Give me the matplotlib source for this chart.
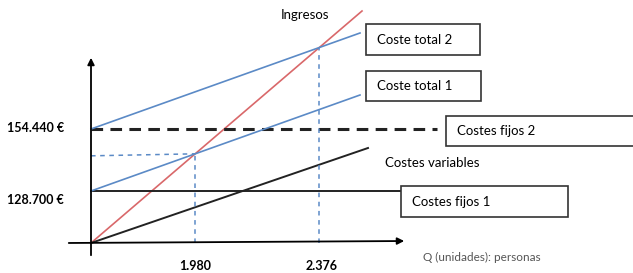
import matplotlib
matplotlib.use('agg')
import matplotlib.pyplot as plt
from matplotlib.patches import Rectangle
import numpy as np

plt.rcParams['font.family'] = ['Lato', 'DejaVu Sans']

# schematic diagram units (origin = 0,0)
fixed_costs = [52, 114]                  # Costes fijos 1, Costes fijos 2
fixed_labels = ['128.700 €', '154.440 €']
ingresos_x = [0, 271]
ingresos_y = [0, 232]
variable_x = [0, 277]
variable_y = [0, 95]
total_slope = 96 / 269                  # Coste total 1 and 2 share the slope
total_end = 269
fixed_ends = [311, 346]
be_labels = ['1.980', '2.376']

blue = '#5b8ac6'
red = '#d9686a'

fig = plt.figure(figsize=(6.33, 2.73), dpi=100)
ax = fig.add_axes([0, 0, 1, 1])
ax.set_xlim(-91, 633 - 91)
ax.set_ylim(-30, 243)
ax.axis('off')

# axes with arrows
ax.annotate('', xy=(316, 2), xytext=(-25, 0),
            arrowprops=dict(arrowstyle='-|>', color='k', lw=1.3, mutation_scale=10))
ax.annotate('', xy=(0, 188), xytext=(0, -15),
            arrowprops=dict(arrowstyle='-|>', color='k', lw=1.3, mutation_scale=10))

# revenue and variable costs
ax.plot(ingresos_x, ingresos_y, color=red, lw=1.2)
ax.plot(variable_x, variable_y, color='#222222', lw=1.4)

# fixed costs
ax.plot([0, fixed_ends[0]], [fixed_costs[0]] * 2, color='#222222', lw=1.4)
ax.plot([0, fixed_ends[1]], [fixed_costs[1]] * 2, color='#222222', lw=2.2,
        dashes=(3.8, 2.4))

# total costs
for cf in fixed_costs:
    ax.plot([0, total_end], [cf, cf + total_slope * total_end], color=blue, lw=1.2)

# break-even points
p = ingresos_y[1] / ingresos_x[1]
for i, cf in enumerate(fixed_costs):
    q = cf / (p - total_slope)
    v = p * q
    ax.plot([q, q], [0, v], color=blue, lw=1.1, dashes=(3, 3))
    if i == 0:
        ax.plot([0, q], [v - 2, v], color=blue, lw=1.1, dashes=(3, 3))
    ax.text(q + 2 * i, -23, be_labels[i], ha='center', va='center',
            fontsize=9, fontweight='bold')

for cf, lab in zip(fixed_costs, fixed_labels):
    ax.text(-84, cf - 9 if cf < 100 else cf + 1, lab, ha='left', va='center',
            fontsize=9, fontweight='bold')

# labels in boxes
boxes = [
    ('Coste total 2', 275, 188, 114, 31),
    ('Coste total 1', 275, 142, 115, 30),
    ('Costes fijos 2', 355, 97, 200, 30),
    ('Costes fijos 1', 310, 26, 167, 31),
]
for lab, x0, y0, w, h in boxes:
    ax.add_patch(Rectangle((x0, y0), w, h, fill=True, facecolor='white',
                           edgecolor='#333333', lw=1.2, zorder=3))
    ax.text(x0 + 11, y0 + h / 2, lab, ha='left', va='center', fontsize=9.5, zorder=4)

ax.text(214, 228, 'Ingresos', ha='center', va='center', fontsize=9.5)
ax.text(294, 80, 'Costes variables', ha='left', va='center', fontsize=9.5)
ax.text(332, -14, 'Q (unidades): personas', ha='left', va='center',
        fontsize=8.5, color='#555555')

fig.savefig('out.png', dpi=100)
